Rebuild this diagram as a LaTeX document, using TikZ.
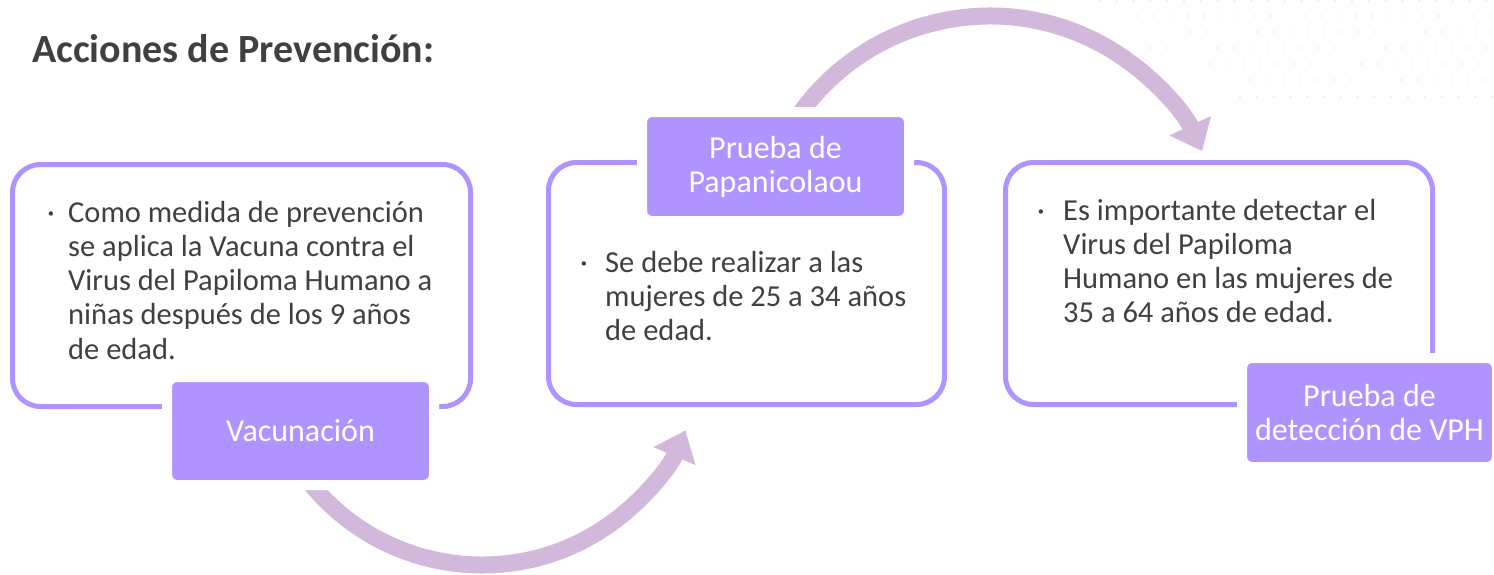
\documentclass[tikz,border=0pt]{standalone}
\usepackage{fontspec}
\setmainfont{Carlito}
\usetikzlibrary{arrows.meta}
\definecolor{boxc}{HTML}{AF94FF}
\definecolor{arrc}{HTML}{D2B9DC}
\definecolor{txt}{HTML}{404040}
\definecolor{dotc}{HTML}{EEEEEE}
\tikzset{
  panel/.style={draw=boxc, line width=5pt, rounded corners=28pt, fill=white, inner sep=0pt},
  tag/.style={fill=boxc, draw=white, line width=10pt, rounded corners=10pt, inner sep=0pt,
              text=white, font=\fontsize{32}{34}\selectfont, align=center},
  bodytext/.style={text=txt, anchor=base west, inner sep=0pt},
  flow/.style={draw=arrc, line width=17pt, -{Triangle[length=28pt,width=44pt]}},
}
\newcommand{\bodyfont}{\fontsize{30.5}{34.3}\selectfont}
\begin{document}
\begin{tikzpicture}[x=1pt,y=-1pt]
\useasboundingbox (0,0) rectangle (1494,574);
% faint dot pattern
\foreach \yy/\xs in {1/1100,16/1120,32/1190,48/1150,64/1210,80/1250,97/1240}{
  \foreach \xx in {0,16.8,...,400}{
    \pgfmathsetmacro{\px}{\xs+\xx}
    \ifdim\px pt<1494pt \fill[dotc] (\px,\yy) circle (1.3pt);\fi
  }
}
% title
\node[anchor=base west, inner sep=0pt, text=txt, font=\bfseries\fontsize{40}{48}\selectfont] (title) at (32,62) {Acciones de Prevención:};
% arrows
\coordinate (a1s) at ({482+221*cos(143)},{344+221*sin(143)});
\coordinate (a2s) at ({990+234*cos(213)},{250+234*sin(213)});
\draw[flow] (a1s) arc[start angle=143, end angle=23, radius=221];
\draw[flow] (a2s) arc[start angle=213, end angle=335, radius=234];
% panels
\node[panel, minimum width=458pt, minimum height=242pt] (b1) at (241.5,285.5) {};
\node[panel, minimum width=396pt, minimum height=242pt] (b2) at (746.5,283.5) {};
\node[panel, minimum width=427pt, minimum height=242pt] (b3) at (1219,283.5) {};
% tags
\node[tag, minimum width=267pt, minimum height=108pt] (t1) at (300.5,431) {Vacunación};
\node[tag, minimum width=267pt, minimum height=109pt] (t2) at (775.5,166.5) {Prueba de\\Papanicolaou};
\node[tag, minimum width=255pt, minimum height=109pt] (t3) at (1369.5,412.5) {Prueba de\\detección de VPH};
% body texts
\node[bodytext] (x1) at (47,222) {\parbox[t]{430pt}{\raggedright\bodyfont
  \makebox[21pt][l]{·}Como medida de prevención\\
  \hspace*{21pt}se aplica la Vacuna contra el\\
  \hspace*{21pt}Virus del Papiloma Humano a\\
  \hspace*{21pt}niñas después de los 9 años\\
  \hspace*{21pt}de edad.}};
\node[bodytext] (x2) at (580,272) {\parbox[t]{360pt}{\raggedright\bodyfont
  \makebox[25pt][l]{·}Se debe realizar a las\\
  \hspace*{25pt}mujeres de 25 a 34 años\\
  \hspace*{25pt}de edad.}};
\node[bodytext] (x3) at (1037,220) {\parbox[t]{390pt}{\raggedright\bodyfont
  \makebox[26pt][l]{·}Es importante detectar el\\
  \hspace*{26pt}Virus del Papiloma\\
  \hspace*{26pt}Humano en las mujeres de\\
  \hspace*{26pt}35 a 64 años de edad.}};
\end{tikzpicture}
\end{document}
